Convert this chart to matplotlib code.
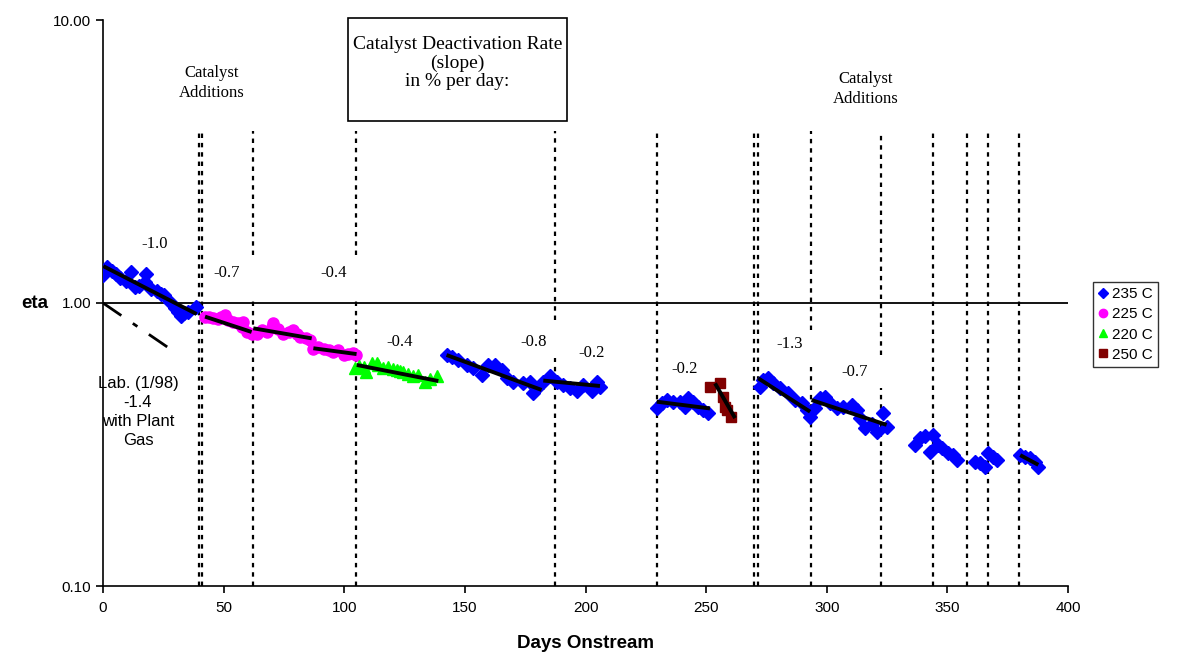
# Catalyst activity (eta) vs days onstream, log scale, with deactivation-rate fits.
import matplotlib
matplotlib.use('Agg')
import matplotlib.pyplot as plt
from matplotlib.ticker import FixedLocator, FixedFormatter, NullLocator

SANS = 'Liberation Sans'
SERIF = 'Liberation Serif'

# --- data ------------------------------------------------------------------
days_235 = [0, 1.8, 3.9, 5.5, 7.0, 9.5, 11.6, 13.3, 15.0, 17.4, 17.7, 20.0, 22.2, 24.0,
            25.3, 27.8, 29.8, 31.0, 32.3, 33.5, 35.4, 38.4,
            142.4, 144.5, 147.3, 150.8, 153.5, 157.0, 159.7, 162.5, 165.3, 167.3, 170.0,
            174.2, 177.0, 178.4, 179.7, 182.5, 185.3, 188.0, 190.8, 193.6, 196.3, 199.0,
            202.5, 204.6, 206.0,
            229.5, 231.6, 233.7, 236.4, 239.2, 241.2, 242.6, 244.7, 246.8, 248.8, 250.9,
            272.3, 273.7, 275.8, 277.9, 280.6, 284.0, 286.8, 289.6, 291.7, 293.1, 295.1,
            297.2, 299.3, 301.3, 304.1, 306.9, 310.3, 312.4, 313.8, 315.9, 318.6, 320.7,
            323.4, 324.8,
            336.6, 338.7, 340.7, 342.8, 344.2, 346.2, 347.6, 350.4, 352.5, 353.9,
            361.5, 363.5, 365.6, 367.0, 369.0, 370.4,
            380.2, 382.2, 384.2, 386.3, 387.7]
eta_235 = [1.26, 1.34, 1.30, 1.27, 1.23, 1.20, 1.29, 1.14, 1.15, 1.19, 1.27, 1.12, 1.10, 1.08,
           1.067, 1.01, 0.958, 0.93, 0.90, 0.92, 0.932, 0.97,
           0.655, 0.646, 0.629, 0.604, 0.59, 0.557, 0.604, 0.604, 0.58, 0.542, 0.527,
           0.52, 0.527, 0.48, 0.50, 0.527, 0.55, 0.527, 0.513, 0.50, 0.49, 0.513,
           0.49, 0.527, 0.506,
           0.424, 0.442, 0.454, 0.448, 0.448, 0.43, 0.46, 0.448, 0.43, 0.418, 0.407,
           0.506, 0.535, 0.542, 0.52, 0.50, 0.48, 0.454, 0.442, 0.418, 0.397, 0.424,
           0.46, 0.467, 0.442, 0.424, 0.43, 0.436, 0.418, 0.392, 0.361, 0.375, 0.351,
           0.407, 0.366,
           0.315, 0.333, 0.338, 0.298, 0.342, 0.315, 0.307, 0.294, 0.29, 0.278,
           0.275, 0.271, 0.264, 0.294, 0.286, 0.278,
           0.29, 0.286, 0.283, 0.275, 0.264]

days_225 = [42.3, 44.0, 45.7, 47.5, 49.0, 50.6, 52.0, 54.0, 56.0, 57.5, 58.0, 59.6, 61.7,
            63.7, 65.8, 67.9, 70.0, 70.6, 72.5, 74.8, 77.0, 78.9, 80.5, 81.7, 84.0, 85.8,
            87.2, 89.0, 91.4, 93.5, 95.5, 97.5, 99.7, 101.5, 103.8, 105.0]
eta_225 = [0.895, 0.89, 0.883, 0.875, 0.89, 0.907, 0.87, 0.859, 0.85, 0.82, 0.859, 0.79, 0.78,
           0.78, 0.80, 0.79, 0.825, 0.848, 0.81, 0.78, 0.79, 0.80, 0.78, 0.76, 0.755, 0.74,
           0.69, 0.70, 0.69, 0.68, 0.673, 0.68, 0.655, 0.66, 0.664, 0.655]

days_220 = [104.5, 106.0, 108.0, 109.0, 111.4, 113.4, 114.0, 116.0, 118.0, 120.0, 121.7,
            123.0, 124.5, 126.5, 128.6, 130.5, 133.5, 135.5, 138.3]
eta_220 = [0.588, 0.60, 0.596, 0.57, 0.612, 0.612, 0.604, 0.59, 0.596, 0.585, 0.58,
           0.575, 0.572, 0.56, 0.55, 0.555, 0.527, 0.54, 0.55]

days_250 = [251.6, 255.8, 256.9, 257.8, 258.8, 260.2]
eta_250 = [0.506, 0.52, 0.467, 0.43, 0.418, 0.397]

# fitted deactivation lines: (day start, day end, eta start, eta end)
fit_lines = [(0.1, 38.8, 1.35, 0.914),
             (42.3, 61.6, 0.895, 0.79),
             (62.3, 86.5, 0.814, 0.75),
             (87.2, 105.1, 0.692, 0.66),
             (105.2, 139.0, 0.604, 0.53),
             (142.4, 181.8, 0.655, 0.493),
             (182.5, 206.0, 0.532, 0.509),
             (229.5, 251.6, 0.448, 0.424),
             (253.7, 262.0, 0.52, 0.392),
             (271.6, 293.1, 0.542, 0.413),
             (293.7, 324.8, 0.454, 0.371),
             (380.2, 387.7, 0.29, 0.268)]
lab_line = (0.0, 30.5, 1.0, 0.664)

# slope labels (% per day)
slope_text = ['-1.0', '-0.7', '-0.4', '-0.4', '-0.8', '-0.2', '-0.2', '-1.3', '-0.7']
slope_day = [21.6, 51.3, 95.5, 123.0, 178.4, 202.5, 241.2, 284.8, 311.7]
slope_eta = [1.62, 1.28, 1.28, 0.73, 0.73, 0.668, 0.585, 0.716, 0.571]

# catalyst additions (days)
addition_days = [39.6, 41.0, 62.0, 105.0, 187.5, 229.8, 269.8, 271.3, 293.3, 322.5,
                 344.0, 358.0, 367.0, 379.8]

# --- figure -------------------------------------------------------------------
fig = plt.figure(figsize=(12.03, 6.58), dpi=100)
ax = fig.add_axes([103 / 1203, 1 - 586 / 658, (1068 - 103) / 1203, (586 - 20) / 658])
ax.set_yscale('log')
ax.set_xlim(0, 400)
ax.set_ylim(0.1, 10)

# catalyst addition markers (some broken around labels/points)
gaps = {62.0: (1.02, 1.48), 105.0: (1.02, 1.48), 187.5: (0.64, 0.87),
        293.3: (0.594, 0.803), 322.5: (0.50, 0.655)}
vstyle = dict(color='black', lw=1.6, ls=(0, (2.0, 2.2)), zorder=1)
for d in addition_days:
    if d in gaps:
        lo, hi = gaps[d]
        ax.plot([d, d], [hi, 4.05], **vstyle)
        ax.plot([d, d], [0.1, lo], **vstyle)
    else:
        ax.plot([d, d], [0.1, 4.05], **vstyle)

ax.axhline(1.0, color='black', lw=1.3, zorder=1)

ax.plot(days_235, eta_235, ls='none', marker='D', ms=7, color='#0000FF', label='235 C', zorder=3)
ax.plot(days_225, eta_225, ls='none', marker='o', ms=8, color='#FF00FF', label='225 C', zorder=3)
ax.plot(days_220, eta_220, ls='none', marker='^', ms=8, color='#00FF00', label='220 C', zorder=3)
ax.plot(days_250, eta_250, ls='none', marker='s', ms=7, color='#800000', label='250 C', zorder=3)

for x0, x1, y0, y1 in fit_lines:
    ax.plot([x0, x1], [y0, y1], color='black', lw=2.8, solid_capstyle='butt', zorder=4)
ax.plot(lab_line[:2], lab_line[2:], color='black', lw=2.0, ls=(0, (8, 5, 2, 5)), zorder=4)

for t, x, y in zip(slope_text, slope_day, slope_eta):
    ax.text(x, y, t, family=SERIF, fontsize=12, ha='center', va='center')

ax.text(45, 6.0, 'Catalyst\nAdditions', family=SERIF, fontsize=12, ha='center', va='center',
        linespacing=1.3)
ax.text(316, 5.7, 'Catalyst\nAdditions', family=SERIF, fontsize=12, ha='center', va='center',
        linespacing=1.3)
ax.text(14.5, 0.412, 'Lab. (1/98)\n-1.4\nwith Plant\nGas', family=SANS, fontsize=12,
        ha='center', va='center', linespacing=1.35)

fig.text((348 + 567) / 2 / 1203, 1 - 63 / 658,
         'Catalyst Deactivation Rate\n(slope)\nin % per day:', family=SERIF, fontsize=14,
         ha='center', va='center', linespacing=1.1)
box = plt.Rectangle((348 / 1203, 1 - 121 / 658), (567 - 348) / 1203, 103 / 658,
                    transform=fig.transFigure, fill=False, ec='black', lw=1.2)
fig.add_artist(box)

# axes styling
for s in ['top', 'right']:
    ax.spines[s].set_visible(False)
for s in ['left', 'bottom']:
    ax.spines[s].set_linewidth(1.2)
ax.yaxis.set_major_locator(FixedLocator([0.1, 1, 10]))
ax.yaxis.set_major_formatter(FixedFormatter(['0.10', '1.00', '10.00']))
ax.yaxis.set_minor_locator(NullLocator())
ax.set_xticks(range(0, 401, 50))
ax.tick_params(axis='both', direction='out', length=5, width=1.2, labelsize=11)
ax.tick_params(axis='x', pad=6)
for lbl in ax.get_xticklabels() + ax.get_yticklabels():
    lbl.set_family(SANS)

ax.set_xlabel('Days Onstream', family=SANS, fontsize=13.5, fontweight='bold', labelpad=14)
fig.text(35 / 1203, 1 - 303 / 658, 'eta', family=SANS, fontsize=13.5, fontweight='bold',
         ha='center', va='center')

leg = fig.legend(loc='upper left', bbox_to_anchor=(1093 / 1203, 1 - 282 / 658),
                 prop={'family': SANS, 'size': 11}, frameon=True, fancybox=False,
                 handlelength=0.6, handletextpad=0.3, borderpad=0.35, labelspacing=0.4,
                 markerscale=0.75, borderaxespad=0)
leg.get_frame().set_edgecolor('black')
leg.get_frame().set_linewidth(1.0)

fig.savefig('out.png', dpi=100)
